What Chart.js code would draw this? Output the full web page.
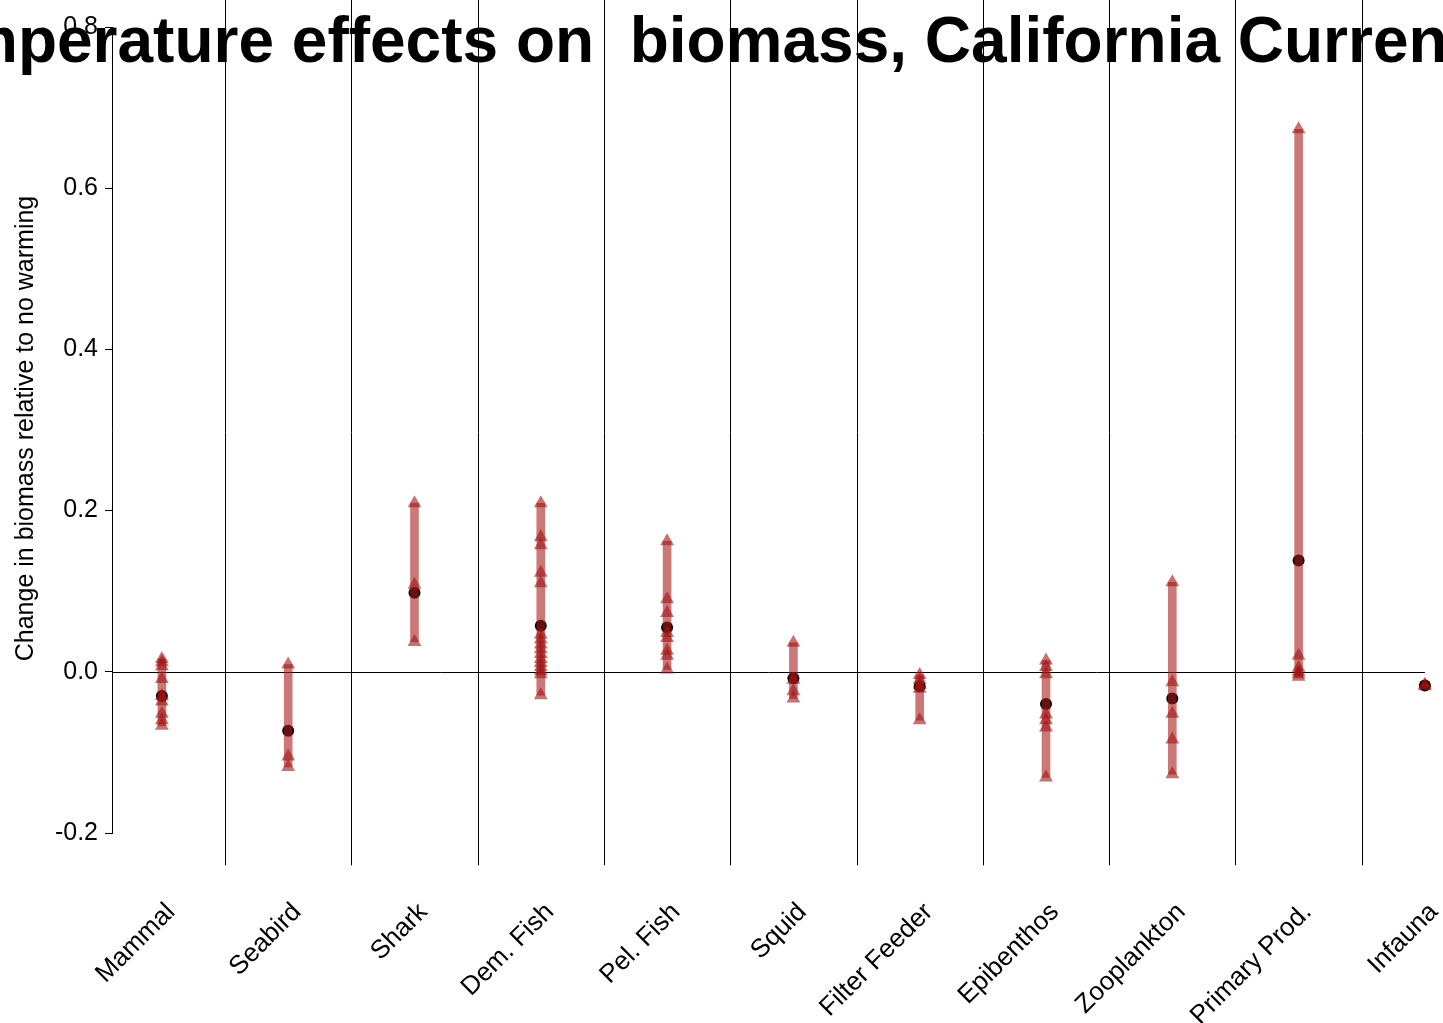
<!DOCTYPE html>
<html>
<head>
<meta charset="utf-8">
<title>Temperature effects on biomass, California Current</title>
<script src="https://cdn.jsdelivr.net/npm/chart.js@4/dist/chart.umd.min.js"></script>
<style>
  html, body { margin: 0; padding: 0; background: #ffffff; overflow: hidden; }
  #wrap { width: 1443px; height: 1023px; position: relative; }
</style>
</head>
<body>
<div id="wrap"><canvas id="chart" width="1443" height="1023"></canvas></div>
<script>
// Functional groups along the x axis
const categories = ['Mammal', 'Seabird', 'Shark', 'Dem. Fish', 'Pel. Fish', 'Squid',
  'Filter Feeder', 'Epibenthos', 'Zooplankton', 'Primary Prod.', 'Infauna'];

// Change in biomass under each warming scenario (triangles), per group
const mammal       = [0.016, 0.012, 0.007, -0.009, -0.030, -0.037, -0.052, -0.060, -0.067];
const seabird      = [0.009, -0.105, -0.118];
const shark        = [0.209, 0.108, 0.037];
const demFish      = [0.209, 0.167, 0.157, 0.123, 0.110, 0.046, 0.040, 0.034, 0.028, 0.022,
                      0.016, 0.011, 0.006, 0.001, -0.003, -0.029];
const pelFish      = [0.162, 0.090, 0.073, 0.048, 0.042, 0.026, 0.020, 0.003];
const squid        = [0.036, -0.010, -0.024, -0.033];
const filterFeeder = [-0.004, -0.010, -0.016, -0.021, -0.060];
const epibenthos   = [0.014, 0.006, -0.003, -0.053, -0.060, -0.069, -0.131];
const zooplankton  = [0.111, -0.013, -0.052, -0.084, -0.127];
const primaryProd  = [0.673, 0.020, 0.005, 0.000, -0.003, -0.006];
const infauna      = [-0.016, -0.018];

// Central estimate for each group (black dots)
const centralValues = [-0.030, -0.073, 0.098, 0.057, 0.055, -0.008, -0.018, -0.040, -0.033, 0.138, -0.017];

// Y axis tick values
const yTicks = [-0.2, 0.0, 0.2, 0.4, 0.6, 0.8];

const scenarioValues = [mammal, seabird, shark, demFish, pelFish, squid, filterFeeder,
  epibenthos, zooplankton, primaryProd, infauna];

const FONT = '"Liberation Sans", Arial, Helvetica, sans-serif';
const titleText = 'Temperature effects on  biomass, California Current';
const yTitleText = 'Change in biomass relative to no warming';

const dotPoints = centralValues.map((v, i) => ({ x: i + 1, y: v }));
const rangeBars = scenarioValues.map((arr, i) => ({ x: i + 1, y: [Math.min(...arr), Math.max(...arr)] }));
const trianglePoints = [];
scenarioValues.forEach((arr, i) => arr.forEach(v => trianglePoints.push({ x: i + 1, y: v })));

// Separators, zero line and all free text
const decorations = {
  id: 'decorations',
  beforeDatasetsDraw(chart) {
    const { ctx, chartArea, scales: { x, y } } = chart;
    ctx.save();
    ctx.strokeStyle = '#000';
    ctx.lineWidth = 1;
    const yBottom = y.getPixelForValue(-0.24);
    for (let k = 1; k < categories.length; k++) {
      const px = Math.round(x.getPixelForValue(k + 0.5)) + 0.5;
      ctx.beginPath();
      ctx.moveTo(px, 0);
      ctx.lineTo(px, yBottom);
      ctx.stroke();
    }
    const y0 = Math.round(y.getPixelForValue(0)) + 0.5;
    ctx.beginPath();
    ctx.moveTo(chartArea.left, y0);
    ctx.lineTo(x.getPixelForValue(categories.length), y0);
    ctx.stroke();
    ctx.restore();
  },
  afterDraw(chart) {
    const { ctx, scales: { x } } = chart;
    ctx.save();
    ctx.fillStyle = '#000';

    // main title
    ctx.font = 'bold 64px ' + FONT;
    ctx.textAlign = 'center';
    ctx.textBaseline = 'alphabetic';
    ctx.fillText(titleText, 680, 62);

    // y axis title
    ctx.save();
    ctx.translate(33, 428.5);
    ctx.rotate(-Math.PI / 2);
    ctx.font = '25px ' + FONT;
    ctx.textAlign = 'center';
    ctx.textBaseline = 'alphabetic';
    ctx.fillText(yTitleText, 0, 0);
    ctx.restore();

    // rotated category labels
    ctx.font = '26px ' + FONT;
    ctx.textAlign = 'right';
    ctx.textBaseline = 'middle';
    categories.forEach((name, i) => {
      ctx.save();
      ctx.translate(x.getPixelForValue(i + 1) + 9, 908);
      ctx.rotate(-Math.PI / 4);
      ctx.fillText(name, 0, 0);
      ctx.restore();
    });
    ctx.restore();
  }
};

new Chart(document.getElementById('chart'), {
  type: 'scatter',
  data: {
    datasets: [
      {
        type: 'scatter',
        label: 'central',
        data: dotPoints,
        pointRadius: 6,
        pointHoverRadius: 6,
        backgroundColor: '#000000',
        borderWidth: 0,
        clip: false,
        order: 3
      },
      {
        type: 'bar',
        label: 'range',
        data: rangeBars,
        barThickness: 8,
        backgroundColor: 'rgba(170, 30, 30, 0.6)',
        borderWidth: 0,
        clip: false,
        order: 2
      },
      {
        type: 'scatter',
        label: 'scenarios',
        data: trianglePoints,
        pointStyle: 'triangle',
        pointRadius: 8,
        pointHoverRadius: 8,
        backgroundColor: 'rgba(160, 20, 20, 0.6)',
        borderWidth: 0,
        clip: false,
        order: 1
      }
    ]
  },
  options: {
    responsive: false,
    animation: false,
    devicePixelRatio: 1,
    layout: { padding: { top: 27, bottom: 190, left: 0, right: 0 } },
    plugins: { legend: { display: false }, tooltip: { enabled: false }, title: { display: false } },
    scales: {
      x: {
        type: 'linear',
        display: false,
        min: 0.605,
        max: 11.08,
        offset: false,
        grid: { display: false }
      },
      y: {
        type: 'linear',
        min: -0.2,
        max: 0.8,
        afterFit(scale) { scale.width = 112; },
        afterBuildTicks(scale) { scale.ticks = yTicks.map(v => ({ value: v })); },
        ticks: {
          color: '#000',
          font: { family: FONT, size: 25 },
          padding: 7,
          callback: v => v.toFixed(1)
        },
        grid: { drawOnChartArea: false, drawTicks: true, tickLength: 7, color: '#000', lineWidth: 1 },
        border: { display: true, color: '#000', width: 1 }
      }
    }
  },
  plugins: [decorations]
});
</script>
</body>
</html>
